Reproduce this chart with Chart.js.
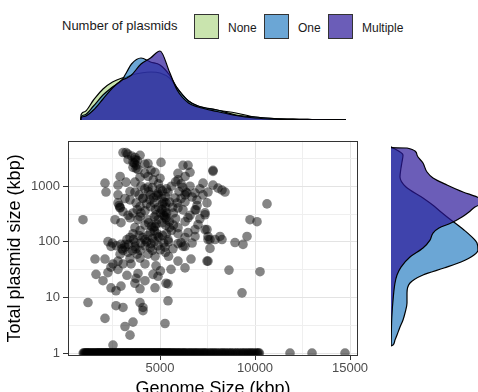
<!DOCTYPE html>
<html><head><meta charset="utf-8">
<script src="https://cdn.jsdelivr.net/npm/chart.js@4.4.1/dist/chart.umd.min.js"></script>
<style>
html,body{margin:0;padding:0;background:#fff;}
#wrap{position:relative;width:478px;height:392px;overflow:hidden;font-family:'Liberation Sans',Arial,sans-serif;background:#fff;}
canvas{position:absolute;}
.key{position:absolute;top:14px;width:25px;height:25px;box-sizing:border-box;border:1px solid #333;}
.lbl{position:absolute;font-size:12px;line-height:14px;color:#1a1a1a;top:20.5px;white-space:nowrap;}
</style></head>
<body><div id="wrap">
<div class="lbl" id="legTitle" style="left:62px;top:18px;font-size:13px;line-height:15px"></div>
<canvas id="topc" width="478" height="85" style="left:0;top:40px"></canvas>
<canvas id="mainc" width="370" height="270" style="left:0;top:130px"></canvas>
<canvas id="rightc" width="200" height="270" style="left:380px;top:130px"></canvas>
</div>
<script>
// ---------------- data ----------------
const legendTitle = 'Number of plasmids';
const groups = ['None', 'One', 'Multiple'];
const groupFills = ['rgba(178,216,139,0.7)', 'rgba(44,128,195,0.7)', 'rgba(44,24,154,0.7)'];
const legendKeyX = [194, 264, 328];
const legendLabelX = [228, 298, 362];

const xTitle = 'Genome Size (kbp)';
const yTitle = 'Total plasmid size (kbp)';
const xGridKbp = [2500, 5000, 7500, 10000, 12500, 15000];
const xLabelKbp = [5000, 10000, 15000];
const yGridKbp = [1, 3.162, 10, 31.62, 100, 316.2, 1000, 3162];
const yLabelKbp = [1, 10, 100, 1000];

// genomes with plasmids: [genome size kbp, total plasmid size kbp]
const withPlasmids = [
 [3053,4033],[3210,4033],[3684,3286],[3737,2096],[3579,2185],[4368,2560],[4526,1932],[4737,1780],[5053,2680],[5000,1393],[3947,1452],
 [2105,1135],[2158,785],[2789,1046],[3210,1183],[3684,1183],[4368,964],[2789,501],[2895,408],[3421,566],[3684,785],[4105,615],[4474,566],
 [4895,754],[5421,785],[5316,501],[5263,347],[5789,615],[5947,408],[6368,785],[6842,754],[7263,1135],[7789,1932],[6210,2370],[6474,2370],[5947,1702],
 [947,250],[2632,250],[2947,221],[3421,271],[3947,283],[4368,250],[4789,307],[5316,271],[5947,180],[6474,271],[6895,376],[7368,333],[7368,166],
 [7895,110],[7526,110],[2263,101],[3158,90],[3684,97],[4210,110],[4737,188],[4895,125],[5421,110],[6105,97],[6842,125],
 [1579,49],[2105,49],[2526,40],[1632,26],[2000,20],[2789,32],[3053,40],[3474,40],[3947,51],[4210,40],[3842,27],[4210,20],[3737,22],
 [4789,37],[4632,26],[4895,24],[5579,32],[5421,17.5],[5947,45],[6316,34],[6631,49],[7526,45],[2421,14.9],[2684,13.2],[2947,16],[3947,14.3],
 [4737,14.9],[5316,18],[1210,8.1],[2684,7.1],[3053,6.6],[3947,8.1],[4105,6.6],[4105,5.8],[5421,8.7],[2105,4.2],[3158,3.0],[3579,3.6],[3421,2.1],
 [5263,3.4],[2526,1.39],
 [2421,83],[2947,90],[3684,83],[4526,93],[5263,80],[5947,93],[6316,83],[7631,76],
 [7789,1850],[6579,1780],[7789,1046],[8052,925],[8263,853],[8421,785],[7526,785],[6421,754],[6316,522],[6947,566],[7473,501],[6210,376],
 [6842,376],[7368,307],[10631,481],[9737,250],[10105,230],[7000,204],[6474,147],[7473,166],[6842,166],[7526,125],[8158,125],[9579,125],
 [8263,110],[7631,110],[8947,97],[9368,90],[6210,83],[7473,45],[8631,31],[10263,29],[9316,12.1],
 [4490,700],[4650,620],[4810,680],[5020,900],[5130,820],[5290,650],[5130,480],[4920,420],[4760,380],[5020,330],[5180,300],[5340,250],
 [5500,230],[4810,210],[4650,180],[4490,150],[4370,130],[4100,120],[3950,160],[4210,200],[3840,250],[3680,180],[3580,140],[3420,120],
 [3260,110],[3160,80],[3050,70],[2900,60],[3320,65],[3740,75],[3950,70],[4210,85],[4490,78],[5020,72],[5290,65],[5450,55],[5130,130],
 [5340,140],[5600,160],[5710,200],[5820,260],[5660,420],[5500,520],[5340,900],[5600,1000],[5820,1200],[4920,1100],[4650,1300],[4370,1500],
 [4210,1700],[3840,2000],[3580,2700],[3320,3000],[3950,3600],[4210,2500],[2900,1500],[2790,700],[3160,600],[3420,800],[3740,500],[3950,430],
 [4210,360],[3580,330],[3320,300],[3050,350],[6110,600],[6320,700],[6690,640],[6110,1100],[6580,1000],[5950,1300],[6320,1500],[7100,900],
 [7260,700],[6950,450],[6580,300],[6320,230],[7100,260],[5950,140],[6320,120],[6690,95],[5680,75],[4370,60],[4740,55],[3420,50],[2790,45],
 [2420,35],[2260,28],[3260,25],[3680,18],[5020,30],
 [3700,3000],[3750,2400],[3650,2600],[3800,2900],[3300,3800],[3500,3500],[2850,450],[2900,420],
 [4900,700],[5100,600],[5200,520],[5300,420],[5100,380],[5350,330],[5250,290],
 [4400,220],[4550,190],[4700,160],[4850,140],[4950,120],[4600,115],
 [2500,95],[2700,85],[3000,75],[3350,90],[3550,70],[3800,60],[4000,95],[4300,100],[4600,70],[4900,85],[5200,95],[5450,100],[3600,110],[3900,130],[4700,100],
 [4000,1000],[4200,900],[4400,800],[4600,950],[3900,700],[4100,600],[4300,480],[4500,430],[4700,500],[3800,380],[4000,330],[4700,280],
 [4900,250],[5100,220],[5300,200],[5500,180],[5700,330],[5900,500],[6000,800],[6200,950]
];
// genomes without plasmids, plotted at total plasmid size = 1 kbp
const noPlasmidLevel = 1;
const noPlasmidGenomeKbp = [960,1040,1130,1190,1270,1350,1400,1480,1560,1610,1690,1750,1820,1900,1960,2030,2110,2170,2240,2300,2380,2450,
 2510,2590,2660,2720,2800,2870,2930,3010,3080,3140,3220,3290,3350,3430,3500,3560,3640,3710,3770,3850,3920,3990,4050,4130,4200,4260,4340,
 4410,4470,4550,4620,4690,4750,4830,4900,4960,5040,5110,5190,5250,5330,5420,5480,5570,5650,5740,5820,5930,6010,6120,6230,6310,6440,6560,
 6670,6790,6900,7020,7150,7290,7400,7700,7850,8000,8180,8320,8470,8650,8800,8990,9150,9330,9480,9650,9800,9950,10120,10230,11842,13000,14737,
 1000,1090,1160,1230,1310,1440,1520,1650,1720,1790,1860,1930,2000,2070,2140,2200,2270,2340,2410,2480,2550,2620,2690,2760,2830,2900,2970,
 3040,3110,3180,3250,3320,3390,3460,3530,3600,3670,3740,3810,3880,3950,4020,4090,4160,4230,4300,4370,4440,4510,4580,4650,4720,4790,4860,
 4930,5000,5070,5150,5220,5290,5370,5450,5520,5600,5700,5780,5880,5970,6060,6170,6270,6370,6500,6610,6730,6850,6960,7090,7220,7340,7460,
 7560,7640,7780,7920,8080,8250,8400,8560,8720,8890,9060,9240,9400,9570,9720,9870,10040,10180];

// top margin: genome size densities by group (relative height)
const densityGenomeKbp = [840,842,1000,1500,2000,2500,3000,3250,3500,4000,4500,5000,5500,5900,6500,7000,8000,9000,10000,11000,12000,13000,14000,14790];
const densNone     = [0,5,8,20,31,38,42,43,45,47,48,47,42,32,19,14,10,7,3,1.5,0.8,0.5,0.3,0.2];
const densOne      = [0,3,5,14,25,33,40,48,56,62,58,55,45,32,19,14,10,5,3,1.5,0.8,0.5,0.3,0.2];
const densMultiple = [0,2,3.5,10,21,32,40,42,45,56,62,69,48,30,17,13,8.5,4.5,2,0.8,0.4,0.2,0.1,0.05];

// right margin: total plasmid size densities (relative width)
const oneSizeKbp  = [4596,3275,2459,1924,1331,885,565,407,319,230,180,153,119,89.8,67.4,55.0,41.2,32.3,24.3,17.5,11.6,7.73,5.13,3.85,2.90,2.09,1.70,1.39,1.33];
const oneDensity  = [0,12,11,10,9,15,32,43,50,60,68,73,80,86,87,83,70,53,32,19,16,16,14,12,9,6,4,2,0];
const multSizeKbp = [4413,4358,3275,2360,1633,1279,960,721,588,480,391,319,260,203,166,135,101,73.1,50.6,33.6,24.3,17.5,9.87,4.35,2.09,1.33];
const multDensity = [0,16,26,32,36,42,56,72,86,94,84,78,71,60,48,42,39,32,19,10,6,4,2.3,0.8,0.3,0.1];

// ---------------- legend ----------------
const wrap = document.getElementById('wrap');
document.getElementById('legTitle').textContent = legendTitle;
groups.forEach((g, i) => {
  const k = document.createElement('div');
  k.className = 'key'; k.style.left = legendKeyX[i] + 'px'; k.style.background = groupFills[i];
  wrap.appendChild(k);
  const l = document.createElement('div');
  l.className = 'lbl'; l.style.left = legendLabelX[i] + 'px'; l.textContent = g;
  wrap.appendChild(l);
});

// ---------------- charts ----------------
Chart.defaults.font.family = "'Liberation Sans', Arial, sans-serif";
const X_MIN = 158, X_MAX = 15420, Y_MIN = 0.885, Y_MAX = 6560;

const panelBorder = {
  id: 'panelBorder',
  afterDatasetsDraw(chart) {
    const {ctx, chartArea: a} = chart;
    ctx.save();
    ctx.strokeStyle = '#333'; ctx.lineWidth = 1;
    ctx.strokeRect(Math.round(a.left) + 0.5, Math.round(a.top) + 0.5, Math.round(a.right - a.left) - 1, Math.round(a.bottom - a.top) - 1);
    ctx.restore();
  }
};

const isMajorX = v => xLabelKbp.includes(v);
const isMajorY = v => yLabelKbp.includes(v);

new Chart(document.getElementById('mainc'), {
  type: 'scatter',
  data: {
    datasets: [
      { data: noPlasmidGenomeKbp.map(x => ({x, y: noPlasmidLevel})), backgroundColor: 'rgba(0,0,0,0.5)', borderWidth: 0, pointRadius: 4.8, pointHoverRadius: 4.8 },
      { data: withPlasmids.map(p => ({x: p[0], y: p[1]})), backgroundColor: 'rgba(0,0,0,0.48)', borderWidth: 0, pointRadius: 4.8, pointHoverRadius: 4.8 }
    ]
  },
  options: {
    responsive: false, animation: false,
    layout: {padding: {top: 8, right: 12, left: 0, bottom: 0}},
    plugins: {legend: {display: false}, tooltip: {enabled: false}},
    scales: {
      x: {
        type: 'linear', min: X_MIN, max: X_MAX,
        afterBuildTicks: s => { s.ticks = xGridKbp.map(v => ({value: v})); },
        afterFit: s => { s.height = 44; },
        grid: {
          color: c => (c.tick && isMajorX(c.tick.value)) ? '#e3e3e3' : '#efefef',
          lineWidth: 1, drawTicks: true, tickLength: 4,
          tickColor: c => (c.tick && isMajorX(c.tick.value)) ? '#333' : 'rgba(0,0,0,0)'
        },
        border: {display: false},
        ticks: {callback: v => isMajorX(v) ? String(v) : '', color: '#4d4d4d', font: {size: 13}, padding: 1, maxRotation: 0, autoSkip: false},
        title: {display: true, text: xTitle, color: '#000', font: {size: 18}, padding: {top: 0, bottom: 0}}
      },
      y: {
        type: 'logarithmic', min: Y_MIN, max: Y_MAX,
        afterBuildTicks: s => { s.ticks = yGridKbp.map(v => ({value: v})); },
        afterFit: s => { s.width = 68; },
        grid: {
          color: c => (c.tick && isMajorY(c.tick.value)) ? '#e3e3e3' : '#efefef',
          lineWidth: 1, drawTicks: true, tickLength: 5,
          tickColor: c => (c.tick && isMajorY(c.tick.value)) ? '#333' : 'rgba(0,0,0,0)'
        },
        border: {display: false},
        ticks: {callback: v => isMajorY(v) ? String(v) : '', color: '#4d4d4d', font: {size: 13}, padding: 3, autoSkip: false},
        title: {display: true, text: yTitle, color: '#000', font: {size: 18}, padding: {top: 4, bottom: 0}}
      }
    }
  },
  plugins: [panelBorder]
});

const topDens = [densNone, densOne, densMultiple];
new Chart(document.getElementById('topc'), {
  type: 'line',
  data: {
    datasets: groups.map((g, i) => ({
      label: g,
      data: densityGenomeKbp.map((x, j) => ({x, y: topDens[i][j]})),
      fill: 'origin', backgroundColor: groupFills[i], borderColor: '#000', borderWidth: 1.2,
      pointRadius: 0, cubicInterpolationMode: 'monotone', order: 3 - i
    }))
  },
  options: {
    responsive: false, animation: false,
    layout: {padding: {left: 68, right: 120, top: 0, bottom: 5}},
    plugins: {legend: {display: false}, tooltip: {enabled: false}},
    scales: {
      x: {type: 'linear', min: X_MIN, max: X_MAX, display: false},
      y: {type: 'linear', min: 0, max: 80, display: false}
    }
  }
});

new Chart(document.getElementById('rightc'), {
  type: 'line',
  data: {
    datasets: [
      { label: groups[1], data: oneSizeKbp.map((y, j) => ({x: oneDensity[j], y})), fill: 'origin',
        backgroundColor: groupFills[1], borderColor: '#000', borderWidth: 1.2, pointRadius: 0, cubicInterpolationMode: 'monotone', order: 2 },
      { label: groups[2], data: multSizeKbp.map((y, j) => ({x: multDensity[j], y})), fill: 'origin',
        backgroundColor: groupFills[2], borderColor: '#000', borderWidth: 1.2, pointRadius: 0, cubicInterpolationMode: 'monotone', order: 1 }
    ]
  },
  options: {
    indexAxis: 'y',
    responsive: false, animation: false,
    layout: {padding: {left: 11, right: 0, top: 8, bottom: 44}},
    plugins: {legend: {display: false}, tooltip: {enabled: false}},
    scales: {
      x: {type: 'linear', min: 0, max: 189, display: false},
      y: {type: 'logarithmic', min: Y_MIN, max: Y_MAX, display: false}
    }
  }
});
</script>
</body></html>
